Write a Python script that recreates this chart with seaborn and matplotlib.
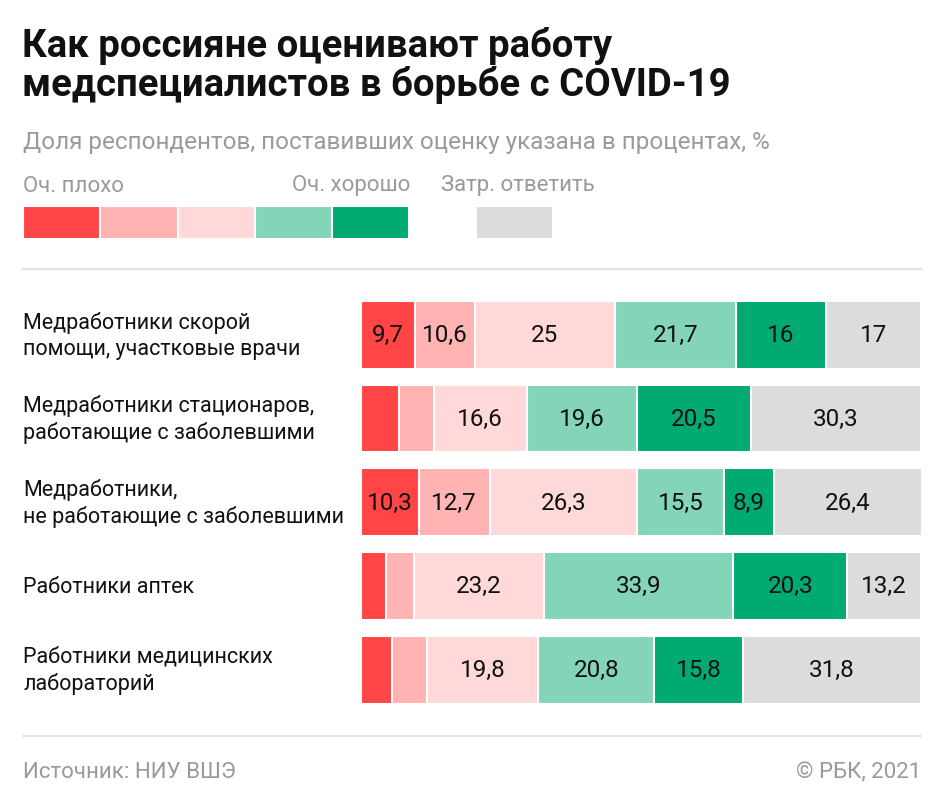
import pandas as pd
import matplotlib.pyplot as plt
import seaborn as sns
import numpy as np

# categories (top to bottom)
groups = [
    "Медработники скорой\nпомощи, участковые врачи",
    "Медработники стационаров,\nработающие с заболевшими",
    "Медработники,\nне работающие с заболевшими",
    "Работники аптек",
    "Работники медицинских\nлабораторий",
]
# shares, % (small unlabeled segments)
very_bad = [9.7, 6.8, 10.3, 4.5, 5.6]
bad = [10.6, 6.2, 12.7, 4.9, 6.2]
neutral = [25, 16.6, 26.3, 23.2, 19.8]
good = [21.7, 19.6, 15.5, 33.9, 20.8]
very_good = [16, 20.5, 8.9, 20.3, 15.8]
no_answer = [17, 30.3, 26.4, 13.2, 31.8]
# which values carry a label
labeled = [
    [True, True, True, True, True, True],
    [False, False, True, True, True, True],
    [True, True, True, True, True, True],
    [False, False, True, True, True, True],
    [False, False, True, True, True, True],
]
seg_names = ["Оч. плохо", "", "", "", "Оч. хорошо", "Затр. ответить"]
colors = ["#FF4545", "#FFB3B3", "#FFD9DA", "#84D5B8", "#00AA72", "#DCDCDC"]

df = pd.DataFrame({
    "group": groups,
    "s0": very_bad, "s1": bad, "s2": neutral,
    "s3": good, "s4": very_good, "s5": no_answer,
})
cols = ["s0", "s1", "s2", "s3", "s4", "s5"]
cum = df[cols].cumsum(axis=1)

sns.set_style("white")
plt.rcParams['font.family'] = ['Roboto', 'DejaVu Sans']

W, H = 945, 812
fig = plt.figure(figsize=(W / 100, H / 100), dpi=100)

def fx(px):
    return px / W

def fy(py):
    return 1 - py / H

grey = '#9A9A9A'

# title and subtitle
fig.text(fx(22), fy(46), "Как россияне оценивают работу", fontsize=27.5,
         fontweight='bold', color='#111111', va='center', ha='left')
fig.text(fx(22), fy(85), "медспециалистов в борьбе с COVID-19", fontsize=27.5,
         fontweight='bold', color='#111111', va='center', ha='left')
fig.text(fx(23), fy(143), "Доля респондентов, поставивших оценку указана в процентах, %",
         fontsize=17.5, color=grey, va='center', ha='left')

# legend
leg = fig.add_axes([fx(23), fy(240), fx(553 - 23), (240 - 207) / H])
leg_x = [0, 1, 2, 3, 4, 5.86]
for i in range(6):
    leg.barh(0, 1, left=leg_x[i], height=1, color=colors[i], edgecolor='white', linewidth=1.5)
leg.set_xlim(0, 6.86)
leg.set_ylim(-0.5, 0.5)
leg.axis('off')
fig.text(fx(23), fy(186), seg_names[0], fontsize=16, color=grey, va='center', ha='left')
fig.text(fx(410), fy(186), seg_names[4], fontsize=16, color=grey, va='center', ha='right')
fig.text(fx(441), fy(186), seg_names[5], fontsize=16, color=grey, va='center', ha='left')

# separator lines
for yy in (270, 737):
    fig.add_artist(plt.Line2D([fx(23), fx(921)], [fy(yy), fy(yy)], color='#E2E2E2', linewidth=1.5))

# main stacked bars
ax = fig.add_axes([fx(361), fy(712.5), fx(921 - 361), 418.5 / H])
for i in range(len(cols) - 1, -1, -1):
    sns.barplot(x=cum[cols[i]], y=df["group"], color=colors[i], orient='h',
                width=0.81, edgecolor='white', linewidth=1.5, saturation=1, ax=ax)

for r in range(len(groups)):
    for i, c in enumerate(cols):
        if not labeled[r][i]:
            continue
        v = df.loc[r, c]
        center = cum.loc[r, c] - v / 2
        txt = f"{v:g}".replace(".", ",")
        ax.text(center, r, txt, ha='center', va='center', fontsize=17.5, color='#111111')

ax.set_xlim(0, 100)
ax.set_ylim(4.5, -0.5)
ax.set_yticks([])
ax.set_xticks([])
ax.set_xlabel("")
ax.set_ylabel("")
sns.despine(ax=ax, left=True, bottom=True)

for r, g in enumerate(groups):
    yc = 336 + r * 83.7
    fig.text(fx(23), fy(yc), g, fontsize=15.5, color='#111111', va='center', ha='left',
             linespacing=1.3)

# footer
fig.text(fx(23), fy(773), "Источник: НИУ ВШЭ", fontsize=16, color=grey, va='center', ha='left')
fig.text(fx(921), fy(773), "© РБК, 2021", fontsize=16, color=grey, va='center', ha='right')

fig.savefig("out.png", dpi=100, facecolor='white')
